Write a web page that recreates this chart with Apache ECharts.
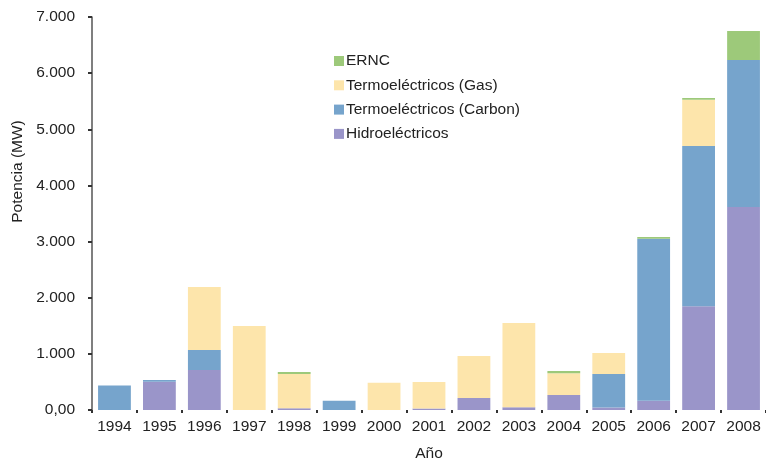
<!DOCTYPE html>
<html>
<head>
<meta charset="utf-8">
<script src="https://cdn.jsdelivr.net/npm/echarts@6/dist/echarts.min.js"></script>
<style>
  html, body { margin: 0; padding: 0; background: #fff; }
  #chart { width: 766px; height: 462px; }
</style>
</head>
<body>
<div id="chart"></div>
<script>
const years = ["1994", "1995", "1996", "1997", "1998", "1999", "2000", "2001",
  "2002", "2003", "2004", "2005", "2006", "2007", "2008"];
// MW per year
const hidro = [0, 505, 712, 0, 30, 0, 0, 25, 214, 50, 267, 45, 166, 1850, 3615];
const carbon = [435, 30, 357, 0, 0, 165, 0, 0, 0, 0, 0, 596, 2886, 2853, 2620];
const gas = [0, 0, 1120, 1496, 611, 0, 486, 474, 748, 1500, 387, 374, 0, 824, 0];
const ernc = [0, 0, 0, 0, 36, 0, 0, 0, 0, 0, 41, 0, 30, 30, 517];
const yTicks = ["0,00", "1.000", "2.000", "3.000", "4.000", "5.000", "6.000", "7.000"];

const colors = {
  ernc: "#9dc97a",
  gas: "#fde5ab",
  carbon: "#76a4cc",
  hidro: "#9a95c9"
};

const font = "Liberation Sans, Arial, sans-serif";
const fontSize = 15.5;

const makeBar = (name, data, color) => ({
  name,
  type: "bar",
  stack: "total",
  data,
  barWidth: "73%",
  itemStyle: { color },
  emphasis: { disabled: true }
});

const chart = echarts.init(document.getElementById("chart"), null, { renderer: "canvas" });
chart.setOption({
  animation: false,
  backgroundColor: "#fff",
  grid: { left: 92, right: 0, top: 17, bottom: 52, outerBoundsMode: "none" },
  legend: {
    orient: "vertical",
    left: 329,
    top: 48,
    itemWidth: 10,
    itemHeight: 10,
    itemGap: 8.3,
    icon: "rect",
    textStyle: { fontFamily: font, fontSize, color: "#222", padding: [0, 0, 0, -3] },
    data: ["ERNC", "Termoeléctricos (Gas)", "Termoeléctricos (Carbon)", "Hidroeléctricos"]
  },
  xAxis: {
    type: "category",
    data: years,
    name: "Año",
    nameLocation: "middle",
    nameGap: 36,
    nameTextStyle: { fontFamily: font, fontSize, color: "#222" },
    axisLine: { show: false },
    axisTick: { show: true, length: 3, lineStyle: { color: "#333", width: 2 } },
    axisLabel: { fontFamily: font, fontSize, color: "#222", margin: 9 }
  },
  yAxis: {
    type: "value",
    min: 0,
    max: 7000,
    interval: 1000,
    name: "Potencia (MW)",
    nameLocation: "middle",
    nameGap: 66,
    // nudge the rotated title up to where it sits in the original
    nameTextStyle: { fontFamily: font, fontSize, color: "#222", padding: [0, 0, 0, 84] },
    axisLine: { show: true, lineStyle: { color: "#555", width: 1.5 } },
    axisTick: { show: true, length: 4, lineStyle: { color: "#333", width: 2 } },
    axisLabel: {
      fontFamily: font,
      fontSize,
      color: "#222",
      margin: 17,
      formatter: (v) => yTicks[Math.round(v / 1000)]
    },
    splitLine: { show: false }
  },
  series: [
    makeBar("Hidroeléctricos", hidro, colors.hidro),
    makeBar("Termoeléctricos (Carbon)", carbon, colors.carbon),
    makeBar("Termoeléctricos (Gas)", gas, colors.gas),
    makeBar("ERNC", ernc, colors.ernc)
  ]
});
</script>
</body>
</html>
